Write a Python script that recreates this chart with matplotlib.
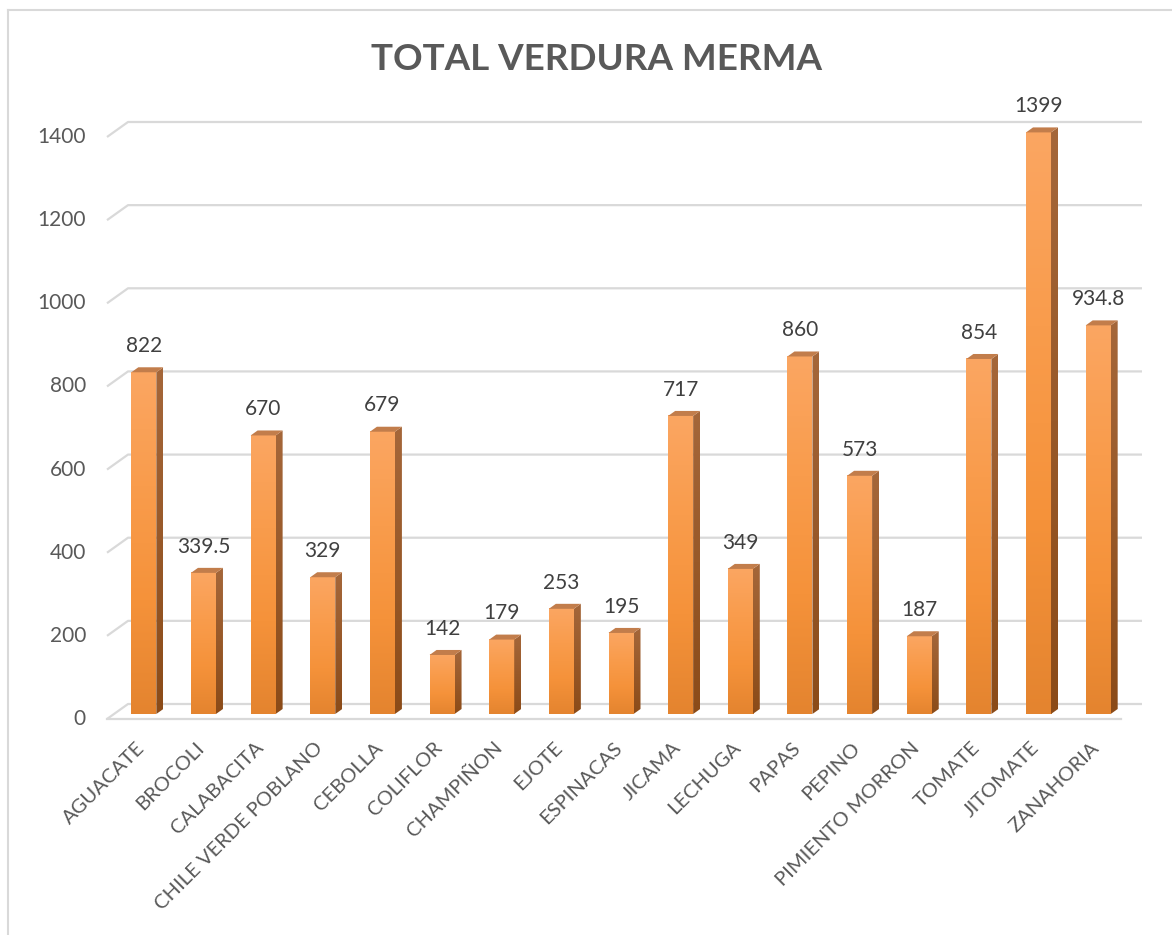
import numpy as np
import matplotlib
matplotlib.use("Agg")
import matplotlib.pyplot as plt
from matplotlib.colors import LinearSegmentedColormap
from matplotlib.patches import Polygon
from matplotlib.lines import Line2D

# Merma total por verdura
verduras = [
    "AGUACATE", "BROCOLI", "CALABACITA", "CHILE VERDE POBLANO", "CEBOLLA",
    "COLIFLOR", "CHAMPIÑON", "EJOTE", "ESPINACAS", "JICAMA", "LECHUGA",
    "PAPAS", "PEPINO", "PIMIENTO MORRON", "TOMATE", "JITOMATE", "ZANAHORIA",
]
merma = [822, 339.5, 670, 329, 679, 142, 179, 253, 195, 717, 349,
         860, 573, 187, 854, 1399, 934.8]
y_ticks = [0, 200, 400, 600, 800, 1000, 1200, 1400]

W, H, DPI = 1172, 935, 100
GRID = "#d9d9d9"
TEXT = "#595959"
plt.rcParams["font.family"] = ["Lato", "DejaVu Sans"]

fig = plt.figure(figsize=(W / DPI, H / DPI), dpi=DPI)
fig.patch.set_facecolor("white")

# front plane of the plot area, in pixels (0 -> 719 px, 1400 -> 137 px)
left, right, bottom = 107, 1121, 719
unit_px = (719 - 137) / 1400
ylim_top = 1500   # a little headroom so the 3D tops are not clipped
top = bottom - ylim_top * unit_px
ax = fig.add_axes([left / W, 1 - bottom / H, (right - left) / W, (bottom - top) / H])
n = len(verduras)
xmin, xmax = -0.5, n - 0.5
ax.set_xlim(xmin, xmax)
ax.set_ylim(0, ylim_top)
ax.axis("off")

# pixel -> data conversion for the oblique depth
px_x = (xmax - xmin) / (right - left)
px_y = 1 / unit_px
depth_dx, depth_dy = 21 * px_x, 15 * px_y      # full floor depth
bar_dx, bar_dy = depth_dx / 3, depth_dy / 3    # bar depth / offset
bar_w = 25 * px_x

# back wall gridlines with the short diagonal on the left side wall
for v in y_ticks:
    ax.plot([xmin, xmin + depth_dx, xmax + depth_dx], [v, v + depth_dy, v + depth_dy],
            color=GRID, lw=1.6, zorder=1, clip_on=False, solid_capstyle="butt")
    ax.text(xmin - 21 * px_x, v, str(v), ha="right", va="center",
            fontsize=15, color=TEXT)
# floor front edge
ax.plot([xmin, xmax], [0, 0], color=GRID, lw=1.6, zorder=1, clip_on=False)

front_cmap = LinearSegmentedColormap.from_list(
    "front", ["#e4842f", "#f5923a", "#f99c4c", "#fba662"])
side_cmap = LinearSegmentedColormap.from_list("side", ["#8b4b18", "#a5673a"])
grad = np.linspace(0, 1, 256).reshape(-1, 1)

for i, v in enumerate(merma):
    x0 = i + bar_dx - bar_w / 2
    x1 = x0 + bar_w
    y0 = bar_dy
    y1 = bar_dy + v
    # front face
    ax.imshow(grad, cmap=front_cmap, extent=(x0, x1, y0, y1), origin="lower",
              aspect="auto", zorder=3, interpolation="bilinear")
    # right side face
    side = Polygon([(x1, y0), (x1 + bar_dx, y0 + bar_dy), (x1 + bar_dx, y1 + bar_dy), (x1, y1)],
                   closed=True, facecolor="none", edgecolor="none", zorder=3)
    ax.add_patch(side)
    im = ax.imshow(grad, cmap=side_cmap, extent=(x1, x1 + bar_dx, y0, y1 + bar_dy),
                   origin="lower", aspect="auto", zorder=3, interpolation="bilinear")
    im.set_clip_path(side)
    # top face
    ax.add_patch(Polygon([(x0, y1), (x1, y1), (x1 + bar_dx, y1 + bar_dy), (x0 + bar_dx, y1 + bar_dy)],
                         closed=True, facecolor="#c27d4b", edgecolor="none", zorder=3))
    label = f"{v:g}"
    ax.annotate(label, (i + bar_dx, y1 + bar_dy), xytext=(0, 11), textcoords="offset points",
                ha="center", va="baseline", fontsize=15, color="#404040", zorder=4,
                annotation_clip=False)
    ax.text(i + 0.08, -26 * px_y, verduras[i], rotation=45, rotation_mode="anchor",
            ha="right", va="center", fontsize=14.5, color=TEXT)

ax.set_xlim(xmin, xmax)
ax.set_ylim(0, ylim_top)

fig.text(596.5 / W, 1 - 70 / H, "TOTAL VERDURA MERMA", ha="center", va="baseline",
         fontsize=26.5, fontweight="bold", color=TEXT)

# chart border (left and top edges)
fig.add_artist(Line2D([7.5 / W, 7.5 / W], [0, 1 - 9.5 / H], transform=fig.transFigure,
                      color=GRID, lw=1.5))
fig.add_artist(Line2D([7.5 / W, 1], [1 - 9.5 / H, 1 - 9.5 / H], transform=fig.transFigure,
                      color=GRID, lw=1.5))

fig.savefig("out.png", dpi=DPI)
